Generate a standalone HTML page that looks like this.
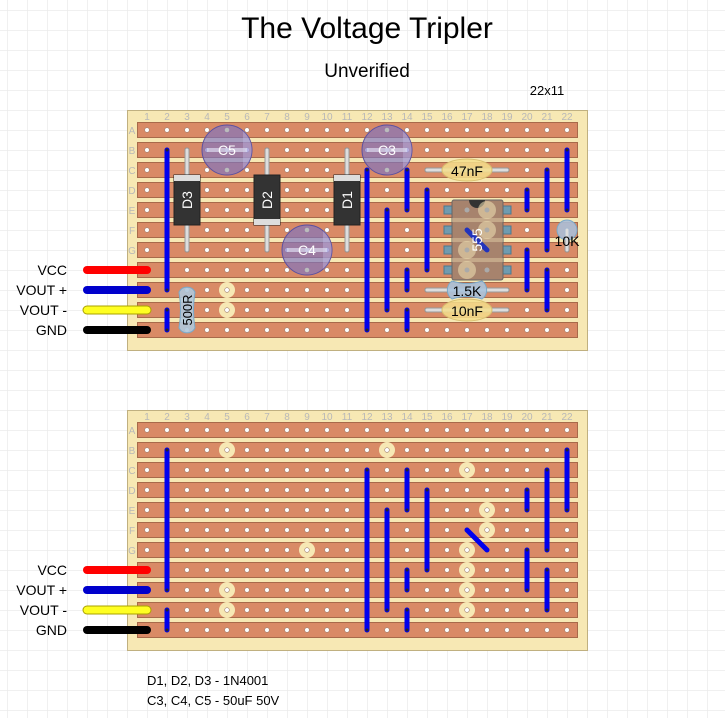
<!DOCTYPE html>
<html><head><meta charset="utf-8"><style>
html,body{margin:0;padding:0;background:#fff}
svg{display:block}
text{font-family:"Liberation Sans",Arial,sans-serif}
</style></head><body>
<svg id="s" width="725" height="718" viewBox="0 0 725 718" xmlns="http://www.w3.org/2000/svg">
<defs>
<pattern id="grid" x="7" y="10" width="20" height="20" patternUnits="userSpaceOnUse">
<path d="M0 0H20M0 0V20" stroke="#ebebeb" stroke-width="1.5" fill="none"/>
</pattern>
</defs>
<rect width="725" height="718" fill="url(#grid)"/>
<text x="367" y="38" font-size="30" text-anchor="middle" fill="#000">The Voltage Tripler</text>
<text x="367" y="77" font-size="19" text-anchor="middle" fill="#000">Unverified</text>
<text x="547" y="95" font-size="13" text-anchor="middle" fill="#000">22x11</text>

<g id="b1"></g>
<g id="b2"></g>

<g font-size="14" text-anchor="end" fill="#000">
<text x="67" y="275">VCC</text><text x="67" y="295">VOUT +</text><text x="67" y="315">VOUT -</text><text x="67" y="335">GND</text>
<text x="67" y="575">VCC</text><text x="67" y="595">VOUT +</text><text x="67" y="615">VOUT -</text><text x="67" y="635">GND</text>
</g>

<g id="comp">
<g stroke="#999" stroke-width="5" stroke-linecap="round"><line x1="187" y1="150" x2="187" y2="250"/><line x1="267" y1="150" x2="267" y2="250"/><line x1="347" y1="150" x2="347" y2="250"/></g>
<g stroke="#ddd" stroke-width="3" stroke-linecap="round"><line x1="187" y1="150" x2="187" y2="250"/><line x1="267" y1="150" x2="267" y2="250"/><line x1="347" y1="150" x2="347" y2="250"/></g>
<rect x="174" y="175" width="26" height="50" fill="#333" stroke="#222"/><rect x="174" y="175" width="26" height="6" fill="#ddd"/>
<rect x="254" y="175" width="26" height="50" fill="#333" stroke="#222"/><rect x="254" y="219" width="26" height="6" fill="#ddd"/>
<rect x="334" y="175" width="26" height="50" fill="#333" stroke="#222"/><rect x="334" y="175" width="26" height="6" fill="#ddd"/>
<text transform="translate(192,200) rotate(-90)" font-size="14" fill="#fff" text-anchor="middle">D3</text>
<text transform="translate(272,200) rotate(-90)" font-size="14" fill="#fff" text-anchor="middle">D2</text>
<text transform="translate(352,200) rotate(-90)" font-size="14" fill="#fff" text-anchor="middle">D1</text>
<g id="caps"></g>
<g stroke="#999" stroke-width="5" stroke-linecap="round"><line x1="427" y1="170" x2="507" y2="170"/><line x1="427" y1="310" x2="507" y2="310"/><line x1="427" y1="290" x2="507" y2="290"/></g>
<g stroke="#ddd" stroke-width="3" stroke-linecap="round"><line x1="427" y1="170" x2="507" y2="170"/><line x1="427" y1="310" x2="507" y2="310"/><line x1="427" y1="290" x2="507" y2="290"/></g>
<ellipse cx="467" cy="170" rx="25" ry="11" fill="rgba(245,222,140,0.85)" stroke="#d8c070"/>
<text x="467" y="176" font-size="14" text-anchor="middle">47nF</text>
<g fill="#6f9bb0" stroke="#4a7a90"><rect x="444" y="206" width="8" height="8"/><rect x="444" y="226" width="8" height="8"/><rect x="444" y="246" width="8" height="8"/><rect x="444" y="266" width="8" height="8"/><rect x="503" y="206" width="8" height="8"/><rect x="503" y="226" width="8" height="8"/><rect x="503" y="246" width="8" height="8"/><rect x="503" y="266" width="8" height="8"/></g>
<rect x="452" y="200" width="51" height="80" rx="2" fill="#a7836d" stroke="#666"/>
<path d="M469 200 A8 8 0 0 0 485 200Z" fill="#333"/>
<g fill="rgba(240,225,180,0.55)"><circle cx="487" cy="210" r="9"/><circle cx="487" cy="230" r="9"/><circle cx="467" cy="250" r="9"/><circle cx="467" cy="270" r="9"/></g>
<rect x="452" y="218" width="51" height="4" fill="rgba(240,225,180,0.4)"/><rect x="452" y="238" width="51" height="4" fill="rgba(240,225,180,0.4)"/><rect x="452" y="258" width="51" height="4" fill="rgba(240,225,180,0.4)"/>
<g fill="#aaa"><circle cx="467" cy="210" r="2.5"/><circle cx="487" cy="210" r="2.5"/><circle cx="467" cy="230" r="2.5"/><circle cx="487" cy="230" r="2.5"/><circle cx="467" cy="250" r="2.5"/><circle cx="487" cy="250" r="2.5"/><circle cx="467" cy="270" r="2.5"/><circle cx="487" cy="270" r="2.5"/></g>
<line x1="467" y1="230" x2="487" y2="250" stroke="#2233bb" stroke-width="5" stroke-linecap="round"/>
<text transform="translate(482,240) rotate(-90)" font-size="14" fill="#fff" text-anchor="middle">555</text>
<path d="M452 281 Q467 286 482 281 A11 11 0 0 1 482 299 Q467 294 452 299 A11 11 0 0 1 452 281Z" fill="rgba(170,195,220,0.9)" stroke="#7aa8c8"/>
<text x="467" y="296" font-size="14" text-anchor="middle">1.5K</text>
<ellipse cx="467" cy="310" rx="25" ry="11" fill="rgba(245,222,140,0.85)" stroke="#d8c070"/>
<text x="467" y="316" font-size="14" text-anchor="middle">10nF</text>
<line x1="567" y1="230" x2="567" y2="250" stroke="#999" stroke-width="5" stroke-linecap="round"/>
<circle cx="567" cy="230" r="10" fill="rgba(170,190,215,0.9)" stroke="#7aa8c8"/>
<line x1="567" y1="230" x2="567" y2="250" stroke="#ddd" stroke-width="3" stroke-linecap="round"/>
<text x="567" y="246" font-size="14" text-anchor="middle">10K</text>
<path d="M179 292 A9 9 0 0 1 195 292 Q192 310 195 328 A9 9 0 0 1 179 328 Q182 310 179 292Z" fill="rgba(175,200,220,0.9)" stroke="#7aa8c8"/>
<text transform="translate(192,310) rotate(-90)" font-size="13" text-anchor="middle">500R</text>
</g>

<g font-size="13" fill="#000">
<text x="147" y="685">D1, D2, D3 - 1N4001</text>
<text x="147" y="705">C3, C4, C5 - 50uF 50V</text>
</g>
</svg>
<script>
(function(){
var NS="http://www.w3.org/2000/svg";
function el(p,t,a){var e=document.createElementNS(NS,t);for(var k in a)e.setAttribute(k,a[k]);p.appendChild(e);return e;}
function X(c){return 127+20*c;}
var links=[[2,1,8],[2,9,10],[12,2,10],[13,4,9],[14,2,4],[14,7,8],[14,9,10],[15,3,7],[20,3,4],[20,6,8],[21,2,6],[21,7,9],[22,1,4]];
var L="ABCDEFG";
function board(g,top,cuts,full){
  el(g,"rect",{x:127.5,y:top+0.5,width:460,height:240,fill:"#f7e8b4",stroke:"#c0b080"});
  for(var c=1;c<=22;c++){var t=el(g,"text",{x:X(c),y:top+10,"font-size":10,fill:"#b8b8b8","text-anchor":"middle"});t.textContent=c;}
  for(var r=0;r<7;r++){var t=el(g,"text",{x:132,y:top+24+20*r,"font-size":10,fill:"#b8b8b8","text-anchor":"middle"});t.textContent=L[r];}
  for(var r=0;r<11;r++){
    var y=top+20+20*r;
    el(g,"rect",{x:137.5,y:y-7.5,width:440,height:15,fill:"#d98a66",stroke:"#a86a4a"});
  }
  cuts.forEach(function(k){el(g,"circle",{cx:X(k[0]),cy:top+20+20*k[1],r:8,fill:"#f7e8b4"});});
  for(var r=0;r<11;r++)for(var c=1;c<=22;c++){
    el(g,"circle",{cx:X(c),cy:top+20+20*r,r:2.3,fill:"#fff",stroke:"#a08070","stroke-width":0.6});}
  var wc=["#ff0000","#0000cc","#ffff22","#000"];
  for(var i=0;i<4;i++){var y=top+160+20*i;
    if(i==2){el(g,"line",{x1:87,y1:y,x2:147,y2:y,stroke:"#aaa000","stroke-width":9,"stroke-linecap":"round"});}
    el(g,"line",{x1:87,y1:y,x2:147,y2:y,stroke:wc[i],"stroke-width":i==2?7:8,"stroke-linecap":"round"});}
  links.forEach(function(k){el(g,"line",{x1:X(k[0]),y1:top+20+20*k[1],x2:X(k[0]),y2:top+20+20*k[2],stroke:"#0000ee","stroke-width":5,"stroke-linecap":"round"});
    el(g,"circle",{cx:X(k[0]),cy:top+20+20*k[1],r:1.5,fill:"#223"});el(g,"circle",{cx:X(k[0]),cy:top+20+20*k[2],r:1.5,fill:"#223"});});
  if(full) el(g,"line",{x1:X(17),y1:top+20+100,x2:X(18),y2:top+20+120,stroke:"#0000ee","stroke-width":5,"stroke-linecap":"round"});
}
board(document.getElementById("b1"),110,[[5,8],[5,9]],false);
board(document.getElementById("b2"),410,[[5,1],[13,1],[17,2],[18,4],[18,5],[9,6],[17,6],[17,7],[17,8],[17,9],[5,8],[5,9]],true);
var cg=document.getElementById("caps");
[[227,150,"C5"],[387,150,"C3"],[307,250,"C4"]].forEach(function(c){
  var x=c[0],y=c[1];
  el(cg,"circle",{cx:x,cy:y,r:25,fill:"rgba(125,115,195,0.65)",stroke:"#5a50a0"});
  el(cg,"path",{d:"M"+(x+16)+" "+(y-19)+" A25 25 0 0 1 "+(x+16)+" "+(y+19)+"Z",fill:"rgba(200,195,240,0.35)"});
  el(cg,"line",{x1:x-20,y1:y,x2:x+20,y2:y,stroke:"rgba(220,220,240,0.7)","stroke-width":4});
  el(cg,"circle",{cx:x,cy:y-20,r:2.3,fill:"#bbb"});el(cg,"circle",{cx:x,cy:y+20,r:2.3,fill:"#bbb"});
  var t=el(cg,"text",{x:x,y:y+5,"font-size":14,fill:"#fff","text-anchor":"middle"});t.textContent=c[2];
});
})();
</script>
</body></html>
